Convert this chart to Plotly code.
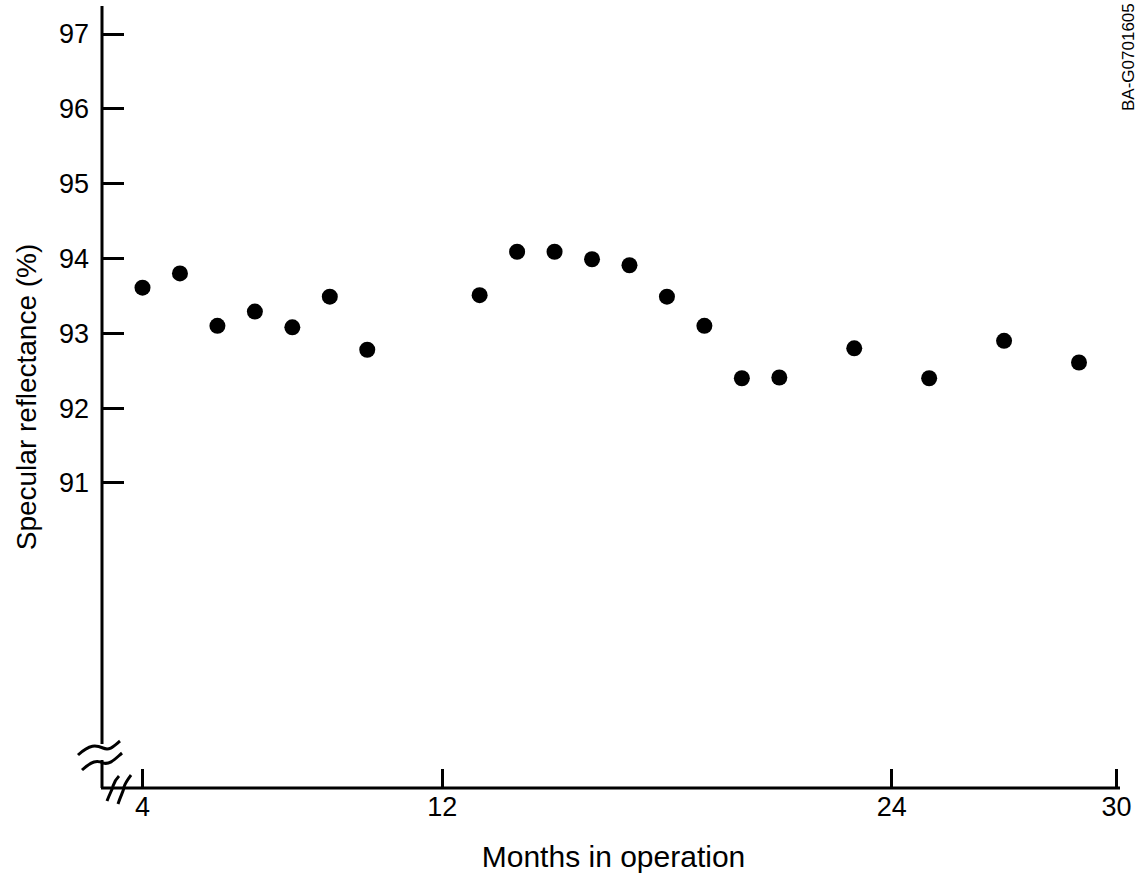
import plotly.graph_objects as go

# Data
months = [4, 5, 6, 7, 8, 9, 10, 13, 14, 15, 16, 17, 18, 19, 20, 21, 23, 25, 27, 29]
reflectance = [93.61, 93.80, 93.10, 93.29, 93.08, 93.49, 92.78, 93.51, 94.09, 94.09,
               93.99, 93.91, 93.49, 93.10, 92.40, 92.41, 92.80, 92.40, 92.90, 92.61]
x_ticks = [4, 12, 24, 30]
y_ticks = [91, 92, 93, 94, 95, 96, 97]

W, H = 1137, 873
L, R, T, B = 102, 1125, 6, 788  # plot area in pixels

def px(x):
    return (x - L) / (R - L)

def py(y):
    return (B - y) / (B - T)

def path(pts, cmds):
    s = ""
    for c, p in zip(cmds, pts):
        s += c + " " + " ".join(f"{px(a):.5f},{py(b):.5f}" for a, b in p) + " "
    return s.strip()

FONT = "Liberation Sans, Arial, Helvetica, sans-serif"

fig = go.Figure()
fig.add_trace(go.Scatter(
    x=months, y=reflectance, mode="markers",
    marker=dict(size=16, color="black"),
    hoverinfo="x+y", showlegend=False,
))

line = dict(color="black", width=3)
shapes = [
    # y axis (with a break)
    dict(type="line", xref="paper", yref="paper", x0=px(102), x1=px(102), y0=py(6), y1=py(744), line=line),
    dict(type="line", xref="paper", yref="paper", x0=px(102), x1=px(102), y0=py(760), y1=py(788), line=line),
    # x axis
    dict(type="line", xref="paper", yref="paper", x0=px(101), x1=px(1120), y0=py(788), y1=py(788), line=line),
    # break squiggles on y axis
    dict(type="path", xref="paper", yref="paper",
         path=path([[(78, 755)], [(90, 744), (96, 745), (103, 748)], [(110, 751), (114, 746), (120, 741)]], ["M", "C", "C"]),
         line=dict(color="black", width=3)),
    dict(type="path", xref="paper", yref="paper",
         path=path([[(82, 770)], [(92, 761), (97, 760), (103, 763)], [(110, 765), (115, 759), (122, 753)]], ["M", "C", "C"]),
         line=dict(color="black", width=3)),
    # break slashes on x axis
    dict(type="path", xref="paper", yref="paper",
         path=path([[(107, 801)], [(110, 793), (113, 788), (113, 786)], [(114, 783), (116, 779), (119, 776)]], ["M", "C", "C"]),
         line=dict(color="black", width=3)),
    dict(type="path", xref="paper", yref="paper",
         path=path([[(118, 804)], [(121, 795), (124, 790), (124, 787)], [(125, 783), (128, 779), (131, 775)]], ["M", "C", "C"]),
         line=dict(color="black", width=3)),
]

fig.update_layout(
    width=W, height=H,
    margin=dict(l=L, r=W - R, t=T, b=H - B, pad=0, autoexpand=False),
    paper_bgcolor="white", plot_bgcolor="white",
    font=dict(family=FONT, color="black", size=27),
    shapes=shapes,
    xaxis=dict(
        range=[4 - 40.5 / 37.46, 4 + (1125 - 142.5) / 37.46],
        tickmode="array", tickvals=x_ticks, ticktext=[str(v) for v in x_ticks],
        ticks="inside", ticklen=19, tickwidth=2.5, tickcolor="black",
        showgrid=False, zeroline=False, showline=False, automargin=False,
        tickfont=dict(size=27, family=FONT),
        title=dict(text="Months in operation", font=dict(size=30, family=FONT), standoff=24),
    ),
    yaxis=dict(
        range=[97 - (788 - 34) / 74.83, 97 + (34 - 6) / 74.83],
        tickmode="array", tickvals=y_ticks, ticktext=[str(v) for v in y_ticks],
        ticks="inside", ticklen=22, tickwidth=2.5, tickcolor="black",
        showgrid=False, zeroline=False, showline=False, automargin=False,
        ticklabelstandoff=12,
        tickfont=dict(size=27, family=FONT),
        title=dict(text="Specular reflectance (%)", font=dict(size=28, family=FONT), standoff=14),
    ),
    annotations=[dict(
        text="BA-G0701605", xref="paper", yref="paper",
        x=px(1129), y=py(57), showarrow=False, textangle=-90,
        font=dict(size=17, family=FONT, color="black"),
        xanchor="center", yanchor="middle",
    )],
)

fig.write_html("out.html", config={"displayModeBar": False},
               post_script="document.body.style.margin='0';")
